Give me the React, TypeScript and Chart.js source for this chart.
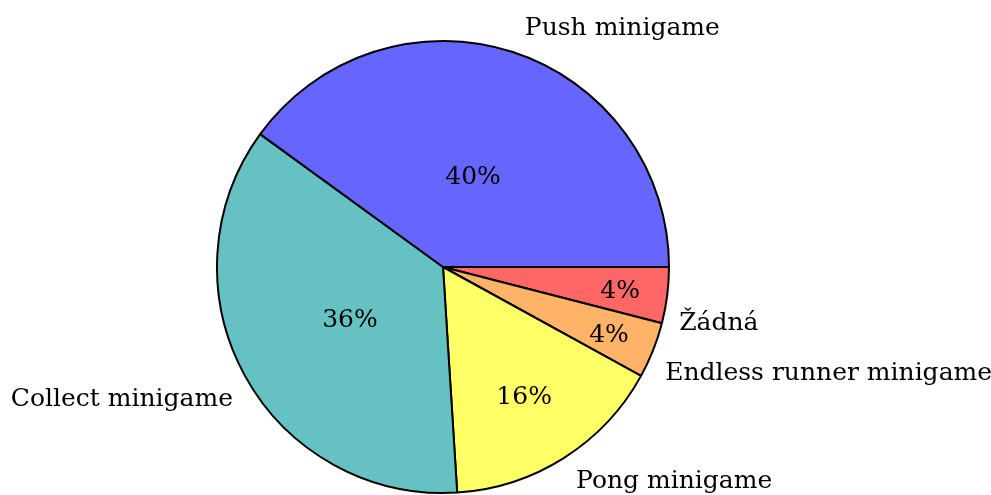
import React, { useEffect, useRef } from "react";
import { Chart, registerables } from "chart.js";

Chart.register(...registerables);

// Data in clockwise order starting at the east (Chart.js draws clockwise)
const categories = ["Žádná", "Endless runner minigame", "Pong minigame", "Collect minigame", "Push minigame"];
const values = [4, 4, 16, 36, 40];
const percentLabels = ["4%", "4%", "16%", "36%", "40%"];
const colors = ["#ff6666", "#ffb366", "#ffff66", "#66c2c2", "#6666ff"];

const FONT = "25px 'DejaVu Serif'";

const labelPlugin = {
  id: "pieLabels",
  afterDatasetsDraw(chart: any) {
    const ctx = chart.ctx as CanvasRenderingContext2D;
    const meta = chart.getDatasetMeta(0);
    const total = values.reduce((a, b) => a + b, 0);
    ctx.save();
    ctx.fillStyle = "#000";
    ctx.font = FONT;
    meta.data.forEach((arc: any, i: number) => {
      const { x, y, startAngle, endAngle, outerRadius } = arc.getProps(
        ["x", "y", "startAngle", "endAngle", "outerRadius"],
        true
      );
      const mid = (startAngle + endAngle) / 2;
      const c = Math.cos(mid);
      const s = Math.sin(mid);
      // inner percentage
      const frac = values[i] / total;
      const rin = (0.83 - frac) * outerRadius;
      const pm = ctx.measureText(percentLabels[i]);
      ctx.textAlign = "center";
      ctx.textBaseline = "alphabetic";
      ctx.fillText(
        percentLabels[i],
        x + rin * c,
        y + rin * s + (pm.actualBoundingBoxAscent - pm.actualBoundingBoxDescent) / 2
      );
      // outer label, anchored at the rim with a corner anchor
      const px = x + outerRadius * c;
      const py = y + outerRadius * s;
      const pad = 12;
      ctx.textAlign = c >= 0 ? "left" : "right";
      const m = ctx.measureText(categories[i]);
      const asc = m.actualBoundingBoxAscent;
      const desc = m.actualBoundingBoxDescent;
      const baseY = s > 0 ? py + pad + asc : py - pad - desc;
      ctx.fillText(categories[i], px + (c >= 0 ? pad : -pad), baseY);
    });
    ctx.restore();
  },
};

export default function App() {
  const ref = useRef<HTMLCanvasElement>(null);
  useEffect(() => {
    document.body.style.margin = "0";
    const chart = new Chart(ref.current!, {
      type: "pie",
      data: {
        labels: categories,
        datasets: [
          {
            data: values,
            backgroundColor: colors,
            borderColor: "#000",
            borderWidth: 2,
          },
        ],
      },
      options: {
        animation: false,
        responsive: false,
        rotation: 90,
        layout: { padding: { left: 216, right: 321, top: 40, bottom: 1 } },
        plugins: {
          legend: { display: false },
          tooltip: { enabled: false },
        },
      },
      plugins: [labelPlugin],
    });
    return () => chart.destroy();
  }, []);
  return (
    <div style={{ width: 991, height: 495, background: "#fff" }}>
      <canvas ref={ref} width={991} height={495} />
    </div>
  );
}
